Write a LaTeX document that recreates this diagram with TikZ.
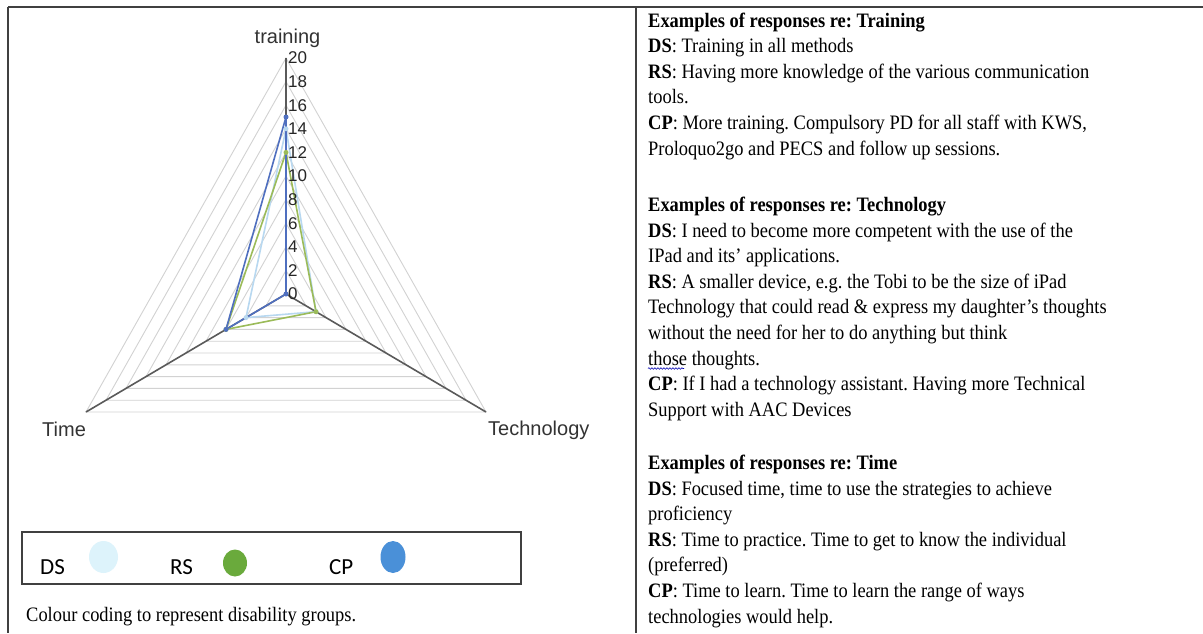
\documentclass[tikz,border=0pt]{standalone}
\usepackage{fontspec}
\setmainfont{Liberation Serif}
\newfontfamily\chartfont{Liberation Sans}
\newfontfamily\legfont{Carlito}
\usetikzlibrary{calc,decorations.pathmorphing}
\definecolor{gridgray}{HTML}{D2D2D2}
\definecolor{axisgray}{HTML}{5A5A5A}
\definecolor{cpline}{HTML}{4F6FBF}
\definecolor{rsline}{HTML}{9BBB59}
\definecolor{dsline}{HTML}{B8D8F0}
\definecolor{dsfill}{HTML}{DDF3FB}
\definecolor{rsfill}{HTML}{6AAA3C}
\definecolor{cpfill}{HTML}{4A90D8}
\definecolor{framegray}{HTML}{404040}
\newcommand{\sqz}[1]{\scalebox{0.9}[1]{#1}}
\newcommand{\btxt}{\fontsize{20.5}{25.6}\selectfont}
\frenchspacing
\begin{document}
\begin{tikzpicture}[x=1pt,y=-1pt,
  frameline/.style={draw=framegray,line width=1.3pt},
  gridline/.style={draw=gridgray,line width=0.9pt},
  axisline/.style={draw=axisgray,line width=1.6pt},
  series/.style={line width=1.6pt,line join=round},
  ticklab/.style={font=\chartfont\fontsize{17}{18}\selectfont,text=black!85,inner sep=0pt,anchor=west},
  catlab/.style={font=\chartfont\fontsize{20}{22}\selectfont,text=black!80,inner sep=0pt},
  leglab/.style={font=\legfont\fontsize{23}{26}\selectfont,inner sep=0pt,anchor=base west},
  bodytext/.style={inner sep=0pt,anchor=base west}
]
\useasboundingbox (0,0) rectangle (1203,633);
\fill[white] (0,0) rectangle (1203,633);
% frame
\draw[frameline] (8,7) -- (1203,7);
\draw[frameline] (8,7) -- (8,633);
\draw[frameline] (636,7) -- (636,633);
% chart geometry
\coordinate (C) at (286,294);
\coordinate (T) at (286,58);
\coordinate (K) at (486,412);
\coordinate (M) at (86,412);
\foreach \v in {2,4,...,20}
  \draw[gridline] ($(C)!\v/20!(T)$) -- ($(C)!\v/20!(K)$) -- ($(C)!\v/20!(M)$) -- cycle;
\draw[axisline] (C) -- (T);
\draw[axisline] (C) -- (K);
\draw[axisline] (C) -- (M);
% series
\coordinate (ds1) at ($(C)!0.70!(T)$);
\coordinate (ds2) at ($(C)!0.15!(K)$);
\coordinate (ds3) at ($(C)!0.20!(M)$);
\coordinate (rs1) at ($(C)!0.60!(T)$);
\coordinate (rs2) at ($(C)!0.15!(K)$);
\coordinate (rs3) at ($(C)!0.30!(M)$);
\coordinate (cp1) at ($(C)!0.75!(T)$);
\coordinate (cp2) at (C);
\coordinate (cp3) at ($(C)!0.30!(M)$);
\draw[series,dsline] (ds1) -- (ds2) -- (ds3) -- cycle;
\draw[series,rsline] (rs1) -- (rs2) -- (rs3) -- cycle;
\draw[series,cpline] (cp1) -- (cp2) -- (cp3) -- cycle;
\foreach \p in {ds1,ds2,ds3} \fill[dsline] (\p) circle (2.5);
\foreach \p in {rs1,rs2,rs3} \fill[rsline] (\p) circle (2.5);
\foreach \p in {cp1,cp2,cp3} \fill[cpline] (\p) circle (2.5);
% tick labels
\foreach \v in {0,2,...,20}
  \node[ticklab] (tk\v) at ($(C)!\v/20!(T) + (2,0)$) {\v};
% category labels
\node[catlab,anchor=base] (labT) at (287.5,43) {training};
\node[catlab,anchor=base west] (labM) at (42,436) {Time};
\node[catlab,anchor=base west] (labK) at (488,435) {Technology};
% legend
\draw[draw=framegray,line width=1.1pt] (22,532) rectangle (521,584);
\node[leglab] (lDS) at (40,574) {DS};
\fill[dsfill] (103.5,557) ellipse (14.5 and 16);
\node[leglab] (lRS) at (170,574) {RS};
\fill[rsfill] (235,563) ellipse (12 and 13.5);
\node[leglab] (lCP) at (329,574) {CP};
\fill[cpfill] (393,557) ellipse (12.5 and 16);
% caption
\begin{scope}
\clip (9,590) rectangle (635,625);
\node[bodytext] (cap) at (26,621) {\sqz{\btxt Colour coding to represent disability groups.}};
\end{scope}
% right column text
\node[bodytext] (g1) at (648,27) {\sqz{\btxt\begin{tabular}[t]{@{}l@{}}
\textbf{Examples of responses re: Training}\\
\textbf{DS}: Training in all methods\\
\textbf{RS}: Having more knowledge of the various communication\\
tools.\\
\textbf{CP}: More training. Compulsory PD for all staff with KWS,\\
Proloquo2go and PECS and follow up sessions.
\end{tabular}}};
\node[bodytext] (g2) at (648,211.5) {\sqz{\btxt\begin{tabular}[t]{@{}l@{}}
\textbf{Examples of responses re: Technology}\\
\textbf{DS}: I need to become more competent with the use of the\\
IPad and its' applications.\\
\textbf{RS}: A smaller device, e.g. the Tobi to be the size of iPad\\
Technology that could read \& express my daughter's thoughts\\
without the need for her to do anything but think\\
those thoughts.\\
\textbf{CP}: If I had a technology assistant. Having more Technical\\
Support with AAC Devices
\end{tabular}}};
\node[bodytext] (g3) at (648,469.5) {\sqz{\btxt\begin{tabular}[t]{@{}l@{}}
\textbf{Examples of responses re: Time}\\
\textbf{DS}: Focused time, time to use the strategies to achieve\\
proficiency\\
\textbf{RS}: Time to practice. Time to get to know the individual\\
(preferred)\\
\textbf{CP}: Time to learn. Time to learn the range of ways\\
technologies would help.
\end{tabular}}};
\coordinate (sqA) at (648,368.5);
\coordinate (sqB) at (684,368.5);
\draw[blue!70!black,line width=0.6pt,decorate,decoration={snake,amplitude=0.8pt,segment length=3pt}] (sqA) -- (sqB);
\end{tikzpicture}
\end{document}
